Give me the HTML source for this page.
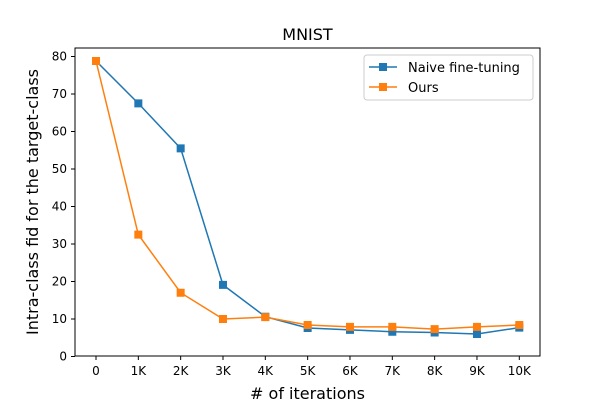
<!DOCTYPE html>
<html><head><meta charset="utf-8"><style>
body{margin:0;background:#fff;}
svg text{font-family:"DejaVu Sans","Liberation Sans",sans-serif;fill:#000;}
</style></head><body>
<svg id="chart" width="600" height="400">
<rect x="0" y="0" width="600" height="400" fill="#fff"/>
<g id="grid"></g>
<g id="lines"></g>
<rect x="75" y="48" width="465" height="308" fill="none" stroke="#000" stroke-width="1"/>
<text x="307.5" y="40" font-size="16" text-anchor="middle">MNIST</text>
<text x="307.5" y="399" font-size="16" text-anchor="middle"># of iterations</text>
<text transform="translate(38,202) rotate(-90)" font-size="16" text-anchor="middle">Intra-class fid for the target-class</text>
<g>
<rect x="364" y="55" width="169" height="45" rx="3" fill="#fff" stroke="#ccc"/>
<line x1="369" y1="67" x2="397" y2="67" stroke="#1f77b4" stroke-width="1.5"/>
<rect x="379" y="63" width="8" height="8" fill="#1f77b4"/>
<text x="408" y="72" font-size="13">Naive fine-tuning</text>
<line x1="369" y1="87" x2="397" y2="87" stroke="#ff7f0e" stroke-width="1.5"/>
<rect x="379" y="83" width="8" height="8" fill="#ff7f0e"/>
<text x="408" y="92" font-size="13">Ours</text>
</g>
</svg>
<script>
const categories=["0","1K","2K","3K","4K","5K","6K","7K","8K","9K","10K"];
const naive=[78.8,67.5,55.5,19.1,10.6,7.6,7.1,6.6,6.4,6.0,7.7];
const ours=[78.8,32.5,17.0,10.0,10.5,8.4,7.9,7.9,7.3,7.9,8.4];
const yTicks=[0,10,20,30,40,50,60,70,80];
const NS="http://www.w3.org/2000/svg";
const xs=i=>96+i*42.33;
const ys=v=>356.5-v*3.75;
const grid=document.getElementById('grid'),lines=document.getElementById('lines');
function mk(t,a,p){const e=document.createElementNS(NS,t);for(const k in a)e.setAttribute(k,a[k]);p.appendChild(e);return e;}
categories.forEach((c,i)=>{
 const l=mk('line',{x1:xs(i),x2:xs(i),y1:356,y2:360,stroke:'#000'},grid);
 
 
 const t=mk('text',{x:xs(i),y:375,'font-size':12,'text-anchor':'middle'},grid);t.textContent=c;
 
 
});
yTicks.forEach(v=>{
 const l=mk('line',{x1:71,x2:75,y1:ys(v),y2:ys(v),stroke:'#000'},grid);
 
 
 const t=mk('text',{x:67,y:ys(v)+4,'font-size':12,'text-anchor':'end'},grid);t.textContent=v;
 
 
});
function series(d,col,name){
 const g=mk('g',{},lines);
 
 
 mk('polyline',{points:d.map((v,i)=>xs(i)+','+ys(v)).join(' '),fill:'none',stroke:col,'stroke-width':1.5},g);
 d.forEach((v,i)=>{const r=mk('rect',{x:xs(i)-4,y:ys(v)-4,width:8,height:8,fill:col},g);
  
  });
}
series(naive,'#1f77b4','naive-series');
series(ours,'#ff7f0e','ours-series');
</script>
</body></html>
